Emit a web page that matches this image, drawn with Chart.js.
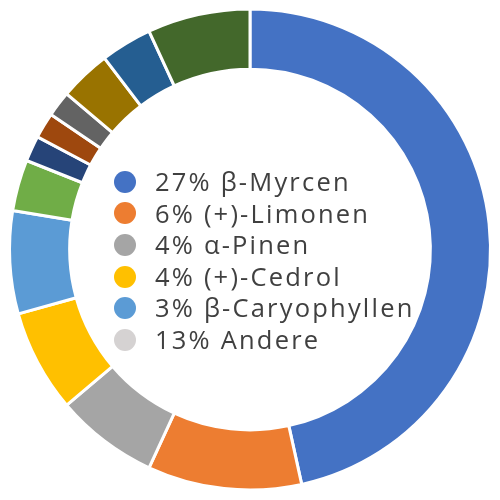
<!DOCTYPE html>
<html>
<head>
<meta charset="utf-8">
<script src="https://cdn.jsdelivr.net/npm/chart.js@4.4.1/dist/chart.umd.min.js"></script>
<style>
  html, body { margin: 0; padding: 0; background: #ffffff; }
  #wrap { position: relative; width: 500px; height: 500px; }
  #legend { position: absolute; left: 114px; top: 166px; font-family: "Open Sans", sans-serif; font-size: 25.5px; color: #404040; letter-spacing: 2.2px; }
  #legend .row { height: 31.6px; line-height: 31.6px; white-space: nowrap; display: flex; align-items: center; }
  #legend .dot { width: 22px; height: 22px; border-radius: 50%; margin-right: 19px; flex: none; }
</style>
</head>
<body>
<div id="wrap">
  <canvas id="c" width="500" height="500"></canvas>
  <div id="legend"></div>
</div>
<script>
const sliceValues = [27, 6, 4, 4, 4, 2, 1, 1, 1, 2, 2, 4];
const sliceColors = ["#4472C4", "#ED7D31", "#A5A5A5", "#FFC000", "#5B9BD5", "#70AD47",
                     "#264478", "#9E480E", "#636363", "#997300", "#255E91", "#43682B"];
const legendLabels = ["27% β-Myrcen", "6% (+)-Limonen", "4% α-Pinen", "4% (+)-Cedrol", "3% β-Caryophyllen", "13% Andere"];
const legendColors = ["#4472C4", "#ED7D31", "#A5A5A5", "#FFC000", "#5B9BD5", "#D5D2D2"];

const leg = document.getElementById('legend');
legendLabels.forEach((t, i) => {
  const r = document.createElement('div'); r.className = 'row';
  const d = document.createElement('span'); d.className = 'dot'; d.style.background = legendColors[i];
  const s = document.createElement('span'); s.textContent = t;
  r.appendChild(d); r.appendChild(s); leg.appendChild(r);
});

new Chart(document.getElementById('c'), {
  type: 'doughnut',
  data: {
    labels: sliceValues.map((v, i) => 'S' + (i + 1)),
    datasets: [{ data: sliceValues, backgroundColor: sliceColors, borderColor: '#ffffff', borderWidth: 3 }]
  },
  options: {
    responsive: false,
    animation: false,
    cutout: '75%',
    layout: { padding: { top: 7, bottom: 8, left: 8, right: 8 } },
    plugins: { legend: { display: false }, tooltip: { enabled: false } }
  }
});
</script>
</body>
</html>
